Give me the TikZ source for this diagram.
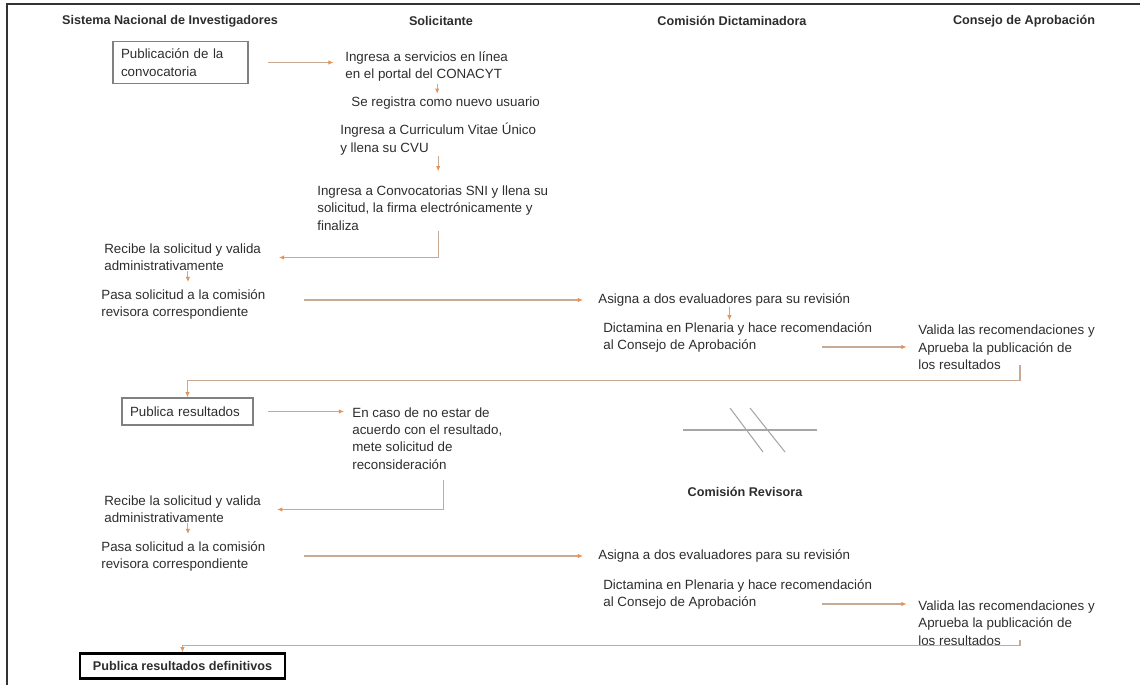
\documentclass[tikz,border=0pt]{standalone}
\usepackage{fontspec}
\setmainfont{Liberation Sans}
\usetikzlibrary{arrows.meta}
\definecolor{linea}{RGB}{200,170,148}
\definecolor{punta}{RGB}{232,146,84}
\definecolor{texto}{RGB}{45,45,45}
\begin{document}
\begin{tikzpicture}[x=0.02cm,y=-0.02cm,
  titulo/.style={font=\bfseries\fontsize{7.2}{9}\selectfont,text=texto,inner sep=0pt},
  paso/.style={font=\fontsize{7.6}{9.9}\selectfont,text=texto,align=left,anchor=west,inner sep=0pt},
  caja/.style={draw=#1,line width=0.7pt,font=\fontsize{7.6}{9.9}\selectfont,text=texto,align=left,inner xsep=4.5pt,inner ysep=0pt},
  flecha/.style={draw=linea,line width=0.6pt,-{Latex[length=3pt,width=2.6pt,color=punta]}}]
\useasboundingbox (0,0) rectangle (1140,685);
% marco
\draw[line width=1.1pt,black!80] (7,685) -- (7,4) -- (1140,4);
% encabezados
\node[titulo] (hsni) at (170,21) {Sistema Nacional de Investigadores};
\node[titulo] (hsol) at (441,21) {Solicitante};
\node[titulo] (hdic) at (732,21) {Comisión Dictaminadora};
\node[titulo] (hcon) at (1024,21) {Consejo de Aprobación};
% convocatoria y registro
\node[caja=gray,text width=2.38cm,minimum height=0.84cm] (pub) at (180.5,62.5) {Publicación de la\\convocatoria};
\node[paso] (ing1) at (345,66.5) {Ingresa a servicios en línea\\en el portal del CONACYT};
\node[paso] (reg) at (351,103) {Se registra como nuevo usuario};
\node[paso] (cvu) at (340,139) {Ingresa a Curriculum Vitae Único\\y llena su CVU};
\node[paso] (conv) at (317,208) {Ingresa a Convocatorias SNI y llena su\\solicitud, la firma electrónicamente y\\finaliza};
\draw[flecha,shorten <=11pt,shorten >=6.5pt] (pub.east) -- (pub.east -| ing1.west);
\draw[flecha,shorten <=1pt,shorten >=1.5pt] ([xshift=6pt]ing1.south) -- ([xshift=6pt]ing1.south |- reg.north);
\draw[flecha,shorten <=0.5pt,shorten >=8pt] (cvu.south) -- (cvu.south |- conv.north);
% primera revision
\node[paso] (rec1) at (104,257.5) {Recibe la solicitud y valida\\administrativamente};
\node[paso] (pasa1) at (101,304.5) {Pasa solicitud a la comisión\\revisora correspondiente};
\node[paso] (asig1) at (598,300) {Asigna a dos evaluadores para su revisión};
\node[paso] (dict1) at (603,337.5) {Dictamina en Plenaria y hace recomendación\\al Consejo de Aprobación};
\node[paso] (val1) at (918,347.5) {Valida las recomendaciones y\\Aprueba la publicación de\\los resultados};
\draw[flecha,shorten >=10pt] ([xshift=3pt]conv.south) |- (rec1.east);
\draw[flecha,shorten >=4pt] ([xshift=3pt]rec1.south) -- ([xshift=3pt]rec1.south |- pasa1.north);
\draw[flecha,shorten <=22pt,shorten >=8.5pt] (asig1.west -| pasa1.east) -- (asig1.west);
\draw[flecha,shorten >=1pt] ([xshift=3pt]asig1.south) -- ([xshift=3pt]asig1.south |- dict1.north);
\coordinate (d1) at (822,347);
\draw[flecha,shorten >=6.5pt] (d1) -- (d1 -| val1.west);
% resultados
\node[caja=gray,text width=2.3cm,minimum height=0.54cm] (pubres) at (187.5,411.5) {Publica resultados};
\node[paso] (caso) at (352,438.5) {En caso de no estar de\\acuerdo con el resultado,\\mete solicitud de\\reconsideración};
\coordinate (v1) at (1020,365);
\draw[flecha] (v1) |- ([yshift=9.6pt]pubres.north) -- (pubres.north);
\draw[flecha,shorten <=8pt,shorten >=4.5pt] (pubres.east) -- (pubres.east -| caso.west);
% cambio de comision
\draw[gray!70,line width=0.6pt] (683,430) -- (817,430);
\draw[gray!70,line width=0.6pt] (730,408) -- (763,452) (750,408) -- (785,452);
\node[titulo] (hrev) at (745,492) {Comisión Revisora};
% reconsideracion
\node[paso] (rec2) at (104,509.5) {Recibe la solicitud y valida\\administrativamente};
\node[paso] (pasa2) at (101,556.5) {Pasa solicitud a la comisión\\revisora correspondiente};
\node[paso] (asig2) at (598,556) {Asigna a dos evaluadores para su revisión};
\node[paso] (dict2) at (603,594.5) {Dictamina en Plenaria y hace recomendación\\al Consejo de Aprobación};
\node[paso] (val2) at (918,623) {Valida las recomendaciones y\\Aprueba la publicación de\\los resultados};
\draw[flecha,shorten <=5.7pt,shorten >=9pt] ([xshift=9pt]caso.south) |- (rec2.east);
\draw[flecha,shorten >=4pt] ([xshift=3pt]rec2.south) -- ([xshift=3pt]rec2.south |- pasa2.north);
\draw[flecha,shorten <=22pt,shorten >=8.5pt] (asig2.west -| pasa2.east) -- (asig2.west);
\coordinate (d2) at (822,604);
\draw[flecha,shorten >=6.5pt] (d2) -- (d2 -| val2.west);
% final
\node[caja=black,line width=1.3pt,font=\bfseries\fontsize{7.2}{9}\selectfont,minimum width=4.1cm,minimum height=0.5cm] (final) at (182.5,666) {Publica resultados definitivos};
\coordinate (v2) at (1020,640);
\draw[flecha] (v2) |- ([yshift=4pt]final.north) -- (final.north);
\end{tikzpicture}
\end{document}
